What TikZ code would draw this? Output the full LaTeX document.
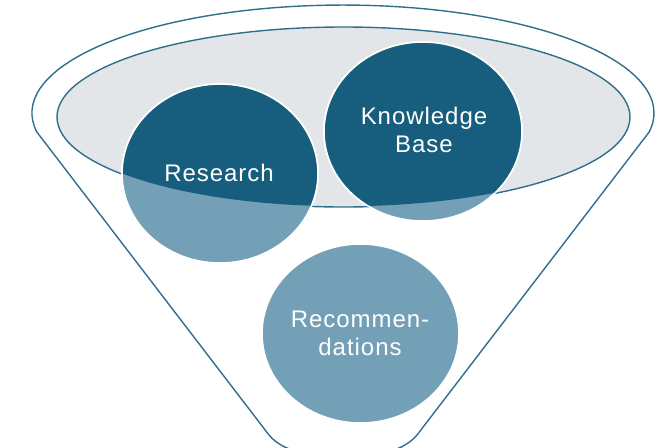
\documentclass[tikz,border=0pt]{standalone}
\usepackage{fontspec}
\newfontfamily\labfont[LetterSpace=4]{Liberation Sans}
\definecolor{darkteal}{RGB}{23,94,126}
\definecolor{lightteal}{RGB}{115,160,182}
\definecolor{greyfill}{RGB}{226,230,233}
\definecolor{edgeblue}{RGB}{47,110,140}
\begin{document}
\begin{tikzpicture}[x=1pt,y=-1pt,
  outline/.style={draw=edgeblue,line width=1.4pt,line cap=round,line join=round},
  bubble/.style={draw=white,line width=1.6pt},
  lab/.style={text=white,font=\labfont\fontsize{24}{28}\selectfont,align=center,inner sep=0pt}]
\useasboundingbox (0,0) rectangle (666,447);
\clip (0,0) rectangle (666,447);
% outer funnel
\coordinate (tl) at (36.7,131.8);
\coordinate (tr) at (649.3,131.8);
\coordinate (bl) at (282,452);
\coordinate (br) at (404,452);
\draw[outline] (tl) arc[start angle=170,end angle=370,x radius=311,y radius=108];
\draw[outline,rounded corners=22pt] (tl) -- (bl) -- (br) -- (tr);
% inner ellipse
\draw[outline,fill=greyfill] (343.5,117) ellipse[x radius=286.5,y radius=90];
% bubbles (light part)
\path[bubble,fill=lightteal] (220,173.5) ellipse[x radius=98,y radius=89.5];
\path[bubble,fill=lightteal] (423,131.5) ellipse[x radius=99,y radius=89.5];
\path[bubble,fill=lightteal] (360.5,333.5) ellipse[x radius=98.5,y radius=89.5];
% bubbles (dark part inside the inner ellipse)
\begin{scope}
  \clip (343.5,117) ellipse[x radius=285.8,y radius=89.3];
  \path[bubble,fill=darkteal] (220,173.5) ellipse[x radius=98,y radius=89.5];
  \path[bubble,fill=darkteal] (423,131.5) ellipse[x radius=99,y radius=89.5];
\end{scope}
% labels
\node[lab] (res) at (219,173) {Research};
\node[lab] (kb) at (424,130) {Knowledge\\Base};
\node[lab] (rec) at (360,333.5) {Recommen-\\dations};
\end{tikzpicture}
\end{document}
